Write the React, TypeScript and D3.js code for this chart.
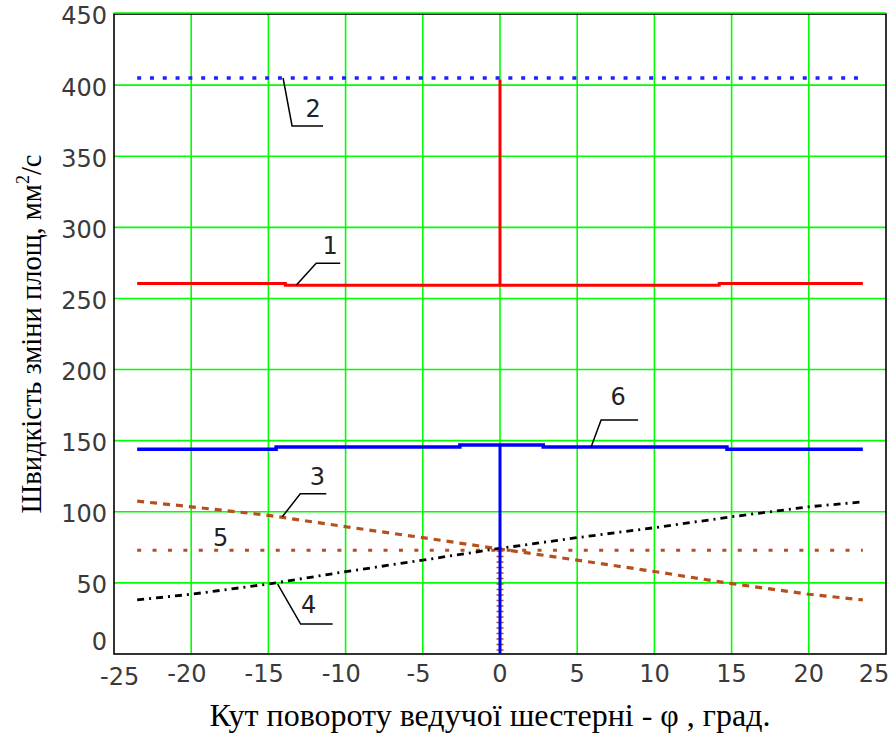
import React, { useEffect, useRef } from 'react';
import * as d3 from 'd3';

// chart values
const xTicks = [-25, -20, -15, -10, -5, 0, 5, 10, 15, 20, 25];
const yTicks = [0, 50, 100, 150, 200, 250, 300, 350, 400, 450];

// 1 - red, with the spike at 0
const line1: [number, number][] = [
  [-23.5, 260.5], [-13.9, 260.5], [-13.9, 259.3], [0, 259.3], [0, 404],
  [0, 259.3], [14.2, 259.3], [14.2, 260.5], [23.5, 260.5],
];
// 2 - blue dotted
const line2: [number, number][] = [[-23.5, 405], [23.5, 405]];
// 3 - brown dashed (falling)
const line3: [number, number][] = [
  [-23.5, 107.5], [-20, 103.5], [-15, 97.5], [-10, 89.5], [-5, 81.8], [0, 73.8],
  [5, 66], [10, 58], [15, 49.5], [20, 42], [23.5, 38],
];
// 4 - black dash-dot (rising)
const line4: [number, number][] = [
  [-23.5, 38], [-20, 42], [-15, 49.2], [-10, 57.9], [-5, 66], [0, 74.3],
  [5, 81.8], [10, 88.8], [15, 96.5], [20, 103.5], [23.5, 107],
];
// 5 - brown dotted level and its drop at 0
const line5: [number, number][] = [[-23.5, 73], [23.5, 73]];
const line5drop: [number, number][] = [[0, 73], [0, 0]];
// 6 - blue steps and its drop at 0
const line6: [number, number][] = [
  [-23.5, 144], [-14.5, 144], [-14.5, 145.5], [-2.6, 145.5], [-2.6, 147], [2.8, 147],
  [2.8, 145.5], [14.7, 145.5], [14.7, 144], [23.5, 144],
];
const line6drop: [number, number][] = [[0, 147], [0, 0]];

// curve labels: anchor on the curve (data units), leader elbow/end and text offset in px
const labels = [
  { name: '1', x: -13.2, y: 259.3, ex: 20, ey: -22, lx: 44, tx: 34, ty: -31 },
  { name: '2', x: -14.05, y: 405, ex: 9, ey: 48, lx: 40, tx: 30, ty: 39 },
  { name: '3', x: -14.1, y: 96.5, ex: 18, ey: -23, lx: 44, tx: 35, ty: -32 },
  { name: '4', x: -14.4, y: 49.2, ex: 23, ey: 40, lx: 55, tx: 31, ty: 29 },
  { name: '6', x: 5.9, y: 145.5, ex: 10, ey: -27, lx: 47, tx: 27, ty: -42 },
];
const label5 = { name: '5', x: -18.1, y: 82 };

const W = 893;
const H = 736;

const App = () => {
  const svgRef = useRef<SVGSVGElement>(null);

  useEffect(() => {
    if (!svgRef.current) return;
    const svg = d3.select(svgRef.current);
    svg.selectAll('*').remove();

    const left = 114, right = 886, top = 14, bottom = 654;
    const x = d3.scaleLinear().domain([-25, 25]).range([left, right]);
    const y = d3.scaleLinear().domain([0, 450]).range([bottom, top]);
    const line = d3.line<[number, number]>().x(d => x(d[0])).y(d => y(d[1]));
    const tickFont = '"DejaVu Sans", sans-serif';

    svg.append('rect').attr('width', W).attr('height', H).attr('fill', '#fff');

    // grid
    const grid = svg.append('g').attr('stroke', '#00ff00').attr('stroke-width', 1.6);
    xTicks.slice(1, -1).forEach(t => {
      grid.append('line').attr('x1', x(t)).attr('x2', x(t)).attr('y1', top).attr('y2', bottom);
    });
    yTicks.slice(1, -1).forEach(t => {
      grid.append('line').attr('x1', left).attr('x2', right).attr('y1', y(t)).attr('y2', y(t));
    });

    // frame
    svg.append('rect')
      .attr('x', left).attr('y', top)
      .attr('width', right - left).attr('height', bottom - top)
      .attr('fill', 'none').attr('stroke', '#000').attr('stroke-width', 1.6);
    svg.append('line')
      .attr('x1', left).attr('x2', right).attr('y1', top - 1).attr('y2', top - 1)
      .attr('stroke', '#00ff00').attr('stroke-width', 1.6);

    // curves
    svg.append('path').attr('d', line(line2)).attr('fill', 'none')
      .attr('stroke', '#2020ff').attr('stroke-width', 3.5).attr('stroke-dasharray', '4 8.8');
    svg.append('path').attr('d', line(line5)).attr('fill', 'none')
      .attr('stroke', '#b5501c').attr('stroke-width', 3).attr('stroke-dasharray', '4 11.4');
    svg.append('path').attr('d', line(line3)).attr('fill', 'none')
      .attr('stroke', '#b5501c').attr('stroke-width', 3.2).attr('stroke-dasharray', '7 6');
    svg.append('path').attr('d', line(line4)).attr('fill', 'none')
      .attr('stroke', '#000').attr('stroke-width', 2.8).attr('stroke-dasharray', '7 5 2 5');
    svg.append('path').attr('d', line(line5drop)).attr('fill', 'none')
      .attr('stroke', '#b5501c').attr('stroke-width', 7).attr('stroke-dasharray', '1.5 4');
    svg.append('path').attr('d', line(line6drop)).attr('fill', 'none')
      .attr('stroke', '#0000ff').attr('stroke-width', 3);
    svg.append('path').attr('d', line(line6)).attr('fill', 'none')
      .attr('stroke', '#0000ff').attr('stroke-width', 3.5);
    svg.append('path').attr('d', line(line1)).attr('fill', 'none')
      .attr('stroke', '#ff0000').attr('stroke-width', 3);

    // y tick labels
    yTicks.forEach(t => {
      svg.append('text')
        .attr('x', left - 7)
        .attr('y', y(t) + (t === 0 ? -12 : 2))
        .attr('dy', '0.35em')
        .attr('text-anchor', 'end')
        .style('font-family', tickFont)
        .style('font-size', '24px')
        .style('fill', '#3a3a3a')
        .text(t);
    });

    // x tick labels: digits centred on the tick, minus sign hanging left
    xTicks.forEach((t, i) => {
      const digits = String(Math.abs(t));
      const w = digits.length * 15.3;
      let cx = x(t);
      if (i === 0) cx += 10;
      if (i === xTicks.length - 1) cx -= 12;
      const ty = i === 0 ? 685 : 682;
      svg.append('text')
        .attr('x', cx).attr('y', ty)
        .attr('text-anchor', 'middle')
        .style('font-family', tickFont).style('font-size', '24px').style('fill', '#3a3a3a')
        .text(digits);
      if (t < 0) {
        svg.append('text')
          .attr('x', cx - w / 2).attr('y', ty)
          .attr('text-anchor', 'end')
          .style('font-family', tickFont).style('font-size', '24px').style('fill', '#3a3a3a')
          .text('-');
      }
    });

    // curve labels with leaders
    labels.forEach(l => {
      const px = x(l.x), py = y(l.y);
      svg.append('path')
        .attr('d', `M${px},${py}L${px + l.ex},${py + l.ey}L${px + l.lx},${py + l.ey}`)
        .attr('fill', 'none').attr('stroke', '#000').attr('stroke-width', 1.5);
      svg.append('text')
        .attr('x', px + l.tx).attr('y', py + l.ty)
        .attr('text-anchor', 'middle')
        .style('font-family', tickFont).style('font-size', '24px').style('fill', '#222')
        .text(l.name);
    });
    svg.append('text')
      .attr('x', x(label5.x)).attr('y', y(label5.y))
      .attr('dy', '0.35em')
      .attr('text-anchor', 'middle')
      .style('font-family', tickFont).style('font-size', '24px').style('fill', '#222')
      .text(label5.name);

    // axis titles
    svg.append('text')
      .attr('x', x(0) - 10).attr('y', 726)
      .attr('text-anchor', 'middle')
      .style('font-family', '"Liberation Serif", serif')
      .style('font-size', '32px')
      .style('fill', '#000')
      .text('Кут повороту ведучої шестерні - φ , град.');

    const yTitle = svg.append('text')
      .attr('transform', `translate(41,${334}) rotate(-90)`)
      .attr('text-anchor', 'middle')
      .style('font-family', '"Liberation Serif", serif')
      .style('font-size', '28.5px')
      .style('fill', '#000');
    yTitle.append('tspan').text('Швидкість зміни площ, мм');
    yTitle.append('tspan').attr('dy', -12).style('font-size', '18px').text('2');
    yTitle.append('tspan').attr('dy', 12).text('/с');
  }, []);

  return (
    <svg ref={svgRef} width={W} height={H} style={{ position: 'absolute', left: 0, top: 0 }} />
  );
};

export default App;
